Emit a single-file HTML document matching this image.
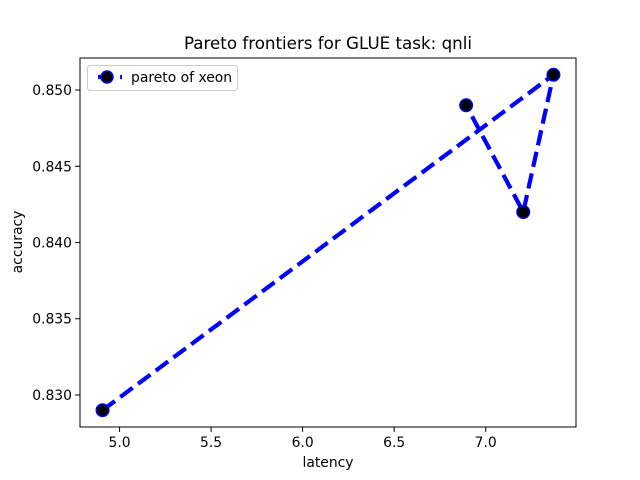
<!DOCTYPE html>
<html><head><meta charset="utf-8"><style>
body{margin:0;background:#fff}
svg{display:block;font-family:"DejaVu Sans","Liberation Sans",sans-serif}
</style></head><body>
<svg id="chart" width="640" height="480">
<rect width="640" height="480" fill="#fff"/>
<text x="328" y="49" text-anchor="middle" font-size="16.7">Pareto frontiers for GLUE task: qnli</text>
<g id="axes"></g>
<g id="series"></g>
<rect x="80" y="58" width="496" height="369" fill="none" stroke="#000" stroke-width="1"/>
<text x="328" y="467" text-anchor="middle" font-size="13.9">latency</text>
<text transform="translate(22,242) rotate(-90)" text-anchor="middle" font-size="13.9">accuracy</text>
<g>
<rect x="87.5" y="65.5" width="150" height="25" rx="3" fill="#fff" stroke="#ccc"/>
<line x1="94" y1="77" x2="122" y2="77" stroke="#00f" stroke-width="4.2" stroke-dasharray="15.4,6.7" stroke-dashoffset="-4"/>
<circle cx="107" cy="77" r="6" fill="#000" stroke="#00f" stroke-width="1.4"/>
<text x="131" y="82" font-size="13.9">pareto of xeon</text>
</g>
</svg>
<script>
const latency = [4.907, 7.37, 7.205, 6.893];
const accuracy = [0.829, 0.851, 0.842, 0.849];
const xTicks = [5.0, 5.5, 6.0, 6.5, 7.0];
const xTickLabels = ["5.0", "5.5", "6.0", "6.5", "7.0"];
const yTicks = [0.830, 0.835, 0.840, 0.845, 0.850];
const yTickLabels = ["0.830", "0.835", "0.840", "0.845", "0.850"];

const L=80,R=576,T=58,B=427;
const xmin0=Math.min(...latency), xmax0=Math.max(...latency);
const ymin0=Math.min(...accuracy), ymax0=Math.max(...accuracy);
const xm=(xmax0-xmin0)*0.05, ym=(ymax0-ymin0)*0.05;
const xlo=xmin0-xm, xhi=xmax0+xm, ylo=ymin0-ym, yhi=ymax0+ym;
const sx=v=>L+(v-xlo)/(xhi-xlo)*(R-L);
const sy=v=>B-(v-ylo)/(yhi-ylo)*(B-T);
const NS="http://www.w3.org/2000/svg";
const axes=document.getElementById('axes'), ser=document.getElementById('series');
function mk(tag,attrs,parent){const e=document.createElementNS(NS,tag);for(const k in attrs)e.setAttribute(k,attrs[k]);parent.appendChild(e);return e;}
xTicks.forEach((v,i)=>{
  const x=sx(v);
  const t=mk('line',{x1:x,x2:x,y1:B,y2:B+4.9,stroke:'#000'},axes);
  
  
  const l=mk('text',{x:x,y:B+20,'text-anchor':'middle','font-size':13.9},axes);
  l.textContent=xTickLabels[i];
  
  
});
yTicks.forEach((v,i)=>{
  const y=sy(v);
  const t=mk('line',{x1:L-4.9,x2:L,y1:y,y2:y,stroke:'#000'},axes);
  
  
  const l=mk('text',{x:L-8,y:y+5,'text-anchor':'end','font-size':13.9},axes);
  l.textContent=yTickLabels[i];
  
  
});
const pts=latency.map((v,i)=>sx(v)+','+sy(accuracy[i])).join(' ');
const pl=mk('polyline',{points:pts,fill:'none',stroke:'#00f','stroke-width':4.2,'stroke-dasharray':'15.4,6.7'},ser);


latency.forEach((v,i)=>{
  const c=mk('circle',{cx:sx(v),cy:sy(accuracy[i]),r:6.3,fill:'#000',stroke:'#00f','stroke-width':1.4},ser);
  
  
});
</script>
</body></html>
